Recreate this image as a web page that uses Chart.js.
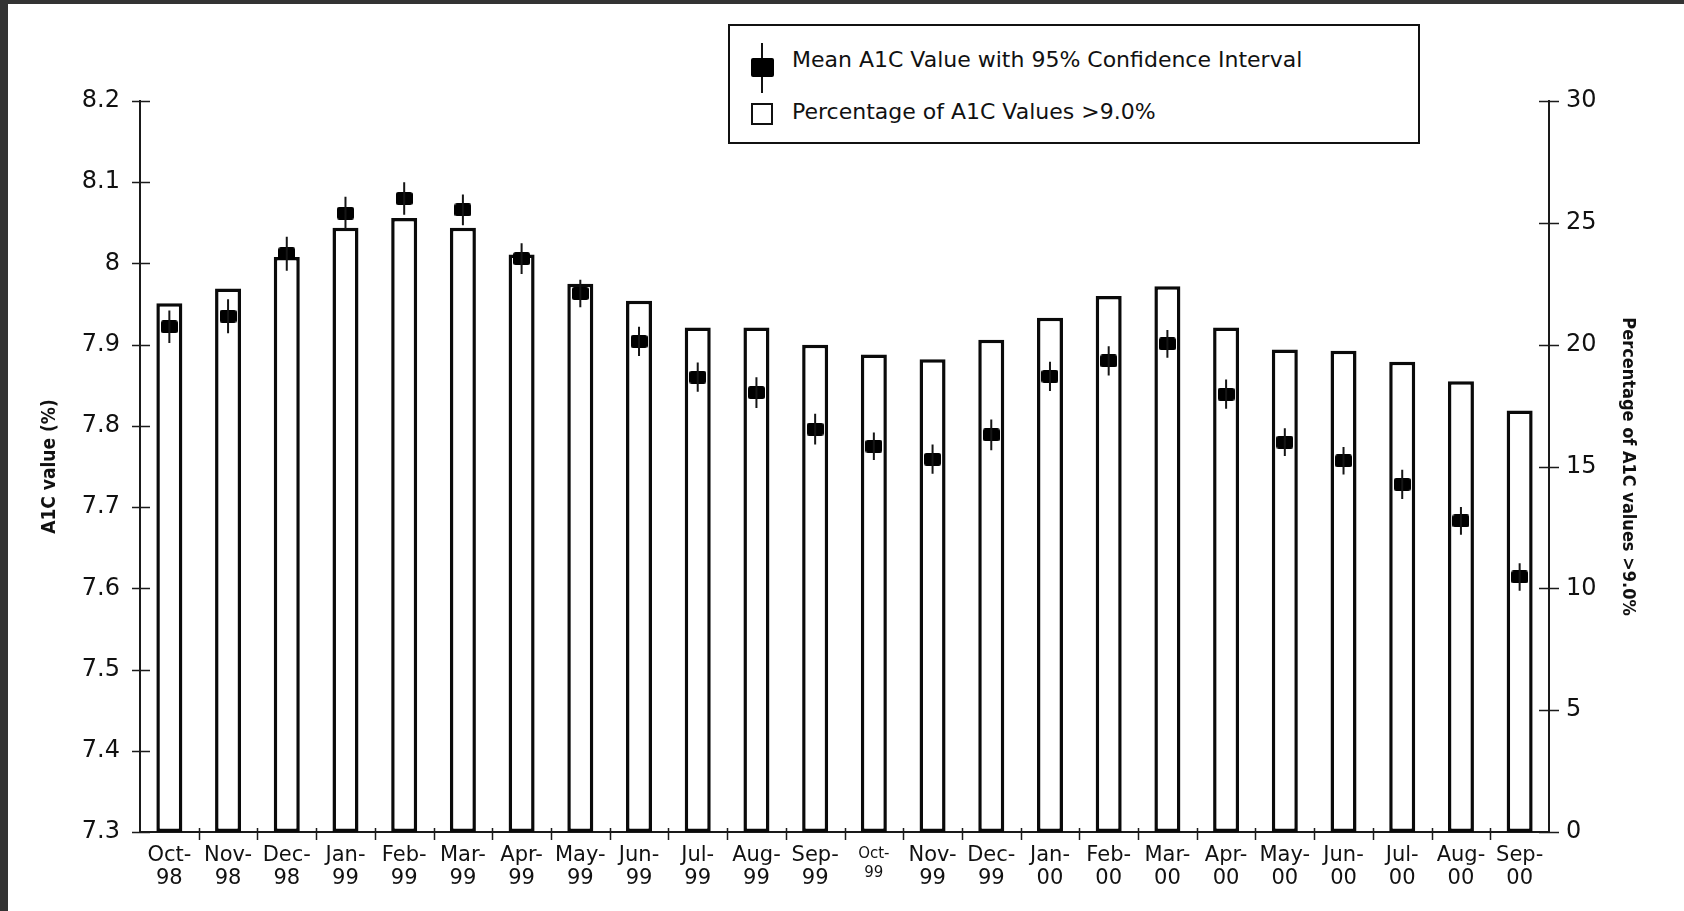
<!DOCTYPE html>
<html>
<head>
<meta charset="utf-8">
<title>Mean A1C and percentage of A1C values above 9.0%</title>
<script src="https://cdn.jsdelivr.net/npm/chart.js@4.4.1/dist/chart.umd.min.js"></script>
<style>
  html, body { margin: 0; padding: 0; background: #333; overflow: hidden; }
  #frame { position: absolute; left: 8px; top: 4px; width: 1676px; height: 907px; background: #fff; }
  #chart { position: absolute; left: 0; top: 0; }
  #legend {
    position: absolute; left: 720px; top: 20px; width: 692px; height: 120px;
    box-sizing: border-box; border: 2px solid #111; background: #fff;
    font-family: 'DejaVu Sans', sans-serif; font-size: 22px; color: #111;
  }
  #legend .item-text { position: absolute; left: 62px; white-space: nowrap; line-height: 26px; }
  #legend .whisker { position: absolute; left: 31px; top: 17px; width: 2px; height: 50px; background: #111; }
  #legend .mark { position: absolute; left: 21px; top: 32px; width: 23px; height: 19px; background: #000; border-radius: 2px; }
  #legend .box { position: absolute; left: 21px; top: 77px; width: 22px; height: 22px; box-sizing: border-box; border: 2px solid #111; background: #fff; }
</style>
</head>
<body>
<div id="frame">
  <canvas id="chart" width="1676" height="907"></canvas>
  <div id="legend"></div>
</div>
<script>
// Monthly categories, two-line tick labels (month / year)
const months = ['Oct-', 'Nov-', 'Dec-', 'Jan-', 'Feb-', 'Mar-', 'Apr-', 'May-', 'Jun-', 'Jul-', 'Aug-', 'Sep-',
                'Oct-', 'Nov-', 'Dec-', 'Jan-', 'Feb-', 'Mar-', 'Apr-', 'May-', 'Jun-', 'Jul-', 'Aug-', 'Sep-'];
const years = ['98', '98', '98', '99', '99', '99', '99', '99', '99', '99', '99', '99',
               '99', '99', '99', '00', '00', '00', '00', '00', '00', '00', '00', '00'];

// Mean A1C value (%) per month
const meanA1C = [7.922, 7.935, 8.012, 8.062, 8.080, 8.066, 8.006, 7.963, 7.904, 7.860, 7.841, 7.796,
                 7.775, 7.759, 7.789, 7.861, 7.880, 7.901, 7.839, 7.780, 7.757, 7.728, 7.683, 7.614];
// 95% confidence interval bounds
const ciLower = [7.902, 7.914, 7.991, 8.042, 8.060, 8.047, 7.987, 7.946, 7.886, 7.842, 7.822, 7.777,
                 7.758, 7.741, 7.770, 7.843, 7.862, 7.884, 7.821, 7.763, 7.740, 7.710, 7.666, 7.597];
const ciUpper = [7.942, 7.956, 8.033, 8.082, 8.100, 8.085, 8.025, 7.980, 7.922, 7.878, 7.860, 7.815,
                 7.792, 7.777, 7.808, 7.879, 7.898, 7.918, 7.857, 7.797, 7.774, 7.746, 7.700, 7.631];

// Percentage of A1C values > 9.0%
const pctAbove9 = [21.7, 22.3, 23.6, 24.8, 25.2, 24.8, 23.7, 22.5, 21.8, 20.7, 20.7, 20.0,
                   19.6, 19.4, 20.2, 21.1, 22.0, 22.4, 20.7, 19.8, 19.75, 19.3, 18.5, 17.3];

// Axis tick settings
const leftTicks = { min: 7.3, max: 8.2, step: 0.1 };
const rightTicks = { min: 0, max: 30, step: 5 };

const labels = months.map((m, i) => [m, years[i]]);
const INK = '#111';

// Filled rounded-rectangle marker for the mean values
const marker = document.createElement('canvas');
marker.width = 17; marker.height = 13;
(function () {
  const c = marker.getContext('2d');
  c.fillStyle = '#000';
  c.beginPath();
  c.roundRect(0, 0, 17, 13, 2.5);
  c.fill();
})();

// Confidence-interval whiskers and crossing tick marks on every axis
const axisDecor = {
  id: 'axisDecor',
  afterDatasetsDraw(chart) {
    const ctx = chart.ctx;
    const xs = chart.scales.x, yl = chart.scales.y, yr = chart.scales.y1;
    const area = chart.chartArea;
    ctx.save();
    ctx.strokeStyle = '#151515';
    ctx.lineWidth = 2;
    ctx.beginPath();
    meanA1C.forEach((v, i) => {
      const px = xs.getPixelForValue(i);
      ctx.moveTo(px, yl.getPixelForValue(ciLower[i]));
      ctx.lineTo(px, yl.getPixelForValue(ciUpper[i]));
    });
    ctx.stroke();

    ctx.strokeStyle = '#1a1a1a';
    ctx.lineWidth = 1.5;
    ctx.beginPath();
    yl.ticks.forEach(t => {
      const py = Math.round(yl.getPixelForValue(t.value)) + 0.5;
      ctx.moveTo(area.left - 8, py);
      ctx.lineTo(area.left + 10, py);
    });
    yr.ticks.forEach(t => {
      const py = Math.round(yr.getPixelForValue(t.value)) + 0.5;
      ctx.moveTo(area.right - 10, py);
      ctx.lineTo(area.right + 10, py);
    });
    for (let i = 1; i < labels.length; i++) {
      const px = Math.round((xs.getPixelForValue(i - 1) + xs.getPixelForValue(i)) / 2) + 0.5;
      ctx.moveTo(px, area.bottom - 4);
      ctx.lineTo(px, area.bottom + 8);
    }
    ctx.stroke();
    ctx.restore();
  }
};

Chart.defaults.font.family = "'DejaVu Sans', sans-serif";
Chart.defaults.color = INK;

const chart = new Chart(document.getElementById('chart'), {
  data: {
    labels: labels,
    datasets: [
      {
        type: 'line',
        label: 'Mean A1C Value with 95% Confidence Interval',
        data: meanA1C,
        yAxisID: 'y',
        showLine: false,
        pointStyle: marker,
        pointRadius: 8,
        order: 0
      },
      {
        type: 'bar',
        label: 'Percentage of A1C Values >9.0%',
        data: pctAbove9,
        yAxisID: 'y1',
        backgroundColor: '#fff',
        borderColor: '#0a0a0a',
        borderWidth: 3.5,
        borderSkipped: false,
        categoryPercentage: 1,
        barPercentage: 0.443,
        order: 1
      }
    ]
  },
  options: {
    responsive: false,
    animation: false,
    layout: { padding: { top: 97, left: 0, right: 0, bottom: 0 } },
    plugins: { legend: { display: false }, tooltip: { enabled: false } },
    scales: {
      x: {
        type: 'category',
        offset: true,
        grid: { display: false, drawTicks: false },
        border: { display: true, color: '#1a1a1a', width: 2 },
        ticks: {
          autoSkip: false,
          maxRotation: 0,
          padding: 13,
          color: INK,
          font: (c) => c.index === 12 ? { size: 15, lineHeight: 1.25 } : { size: 21, lineHeight: 1.05 }
        },
        afterFit: (s) => { s.height = 79; }
      },
      y: {
        position: 'left',
        min: leftTicks.min,
        max: leftTicks.max,
        grid: { display: false, drawTicks: false },
        border: { display: true, color: '#1a1a1a', width: 2 },
        ticks: {
          stepSize: leftTicks.step,
          padding: 20,
          color: INK,
          font: { size: 24 },
          callback: (v) => Number(v).toFixed(1).replace(/\.0$/, '')
        },
        title: {
          display: true,
          text: 'A1C value (%)',
          color: INK,
          font: { family: "'DejaVu Sans Condensed', 'DejaVu Sans', sans-serif", size: 19, weight: 'bold' },
          padding: { top: 31, bottom: 0 }
        },
        afterFit: (s) => { s.width = 132; }
      },
      y1: {
        position: 'right',
        min: rightTicks.min,
        max: rightTicks.max,
        grid: { display: false, drawTicks: false },
        border: { display: true, color: '#1a1a1a', width: 2 },
        ticks: {
          stepSize: rightTicks.step,
          padding: 17,
          color: INK,
          font: { size: 24 }
        },
        title: {
          display: true,
          text: 'Percentage of A1C values >9.0%',
          color: INK,
          font: { family: "'DejaVu Sans Condensed', 'DejaVu Sans', sans-serif", size: 18, weight: 'bold' },
          padding: { top: 46, bottom: 0 }
        },
        afterFit: (s) => { s.width = 135; }
      }
    }
  },
  plugins: [axisDecor]
});

// Legend built from the chart's own dataset labels
(function buildLegend() {
  const el = document.getElementById('legend');
  const [meanDs, barDs] = chart.data.datasets;
  el.innerHTML =
    '<div class="whisker"></div><div class="mark"></div>' +
    '<div class="item-text" style="top:21px"></div>' +
    '<div class="box"></div>' +
    '<div class="item-text" style="top:73px"></div>';
  const texts = el.querySelectorAll('.item-text');
  texts[0].textContent = meanDs.label;
  texts[1].textContent = barDs.label;
})();
</script>
</body>
</html>
